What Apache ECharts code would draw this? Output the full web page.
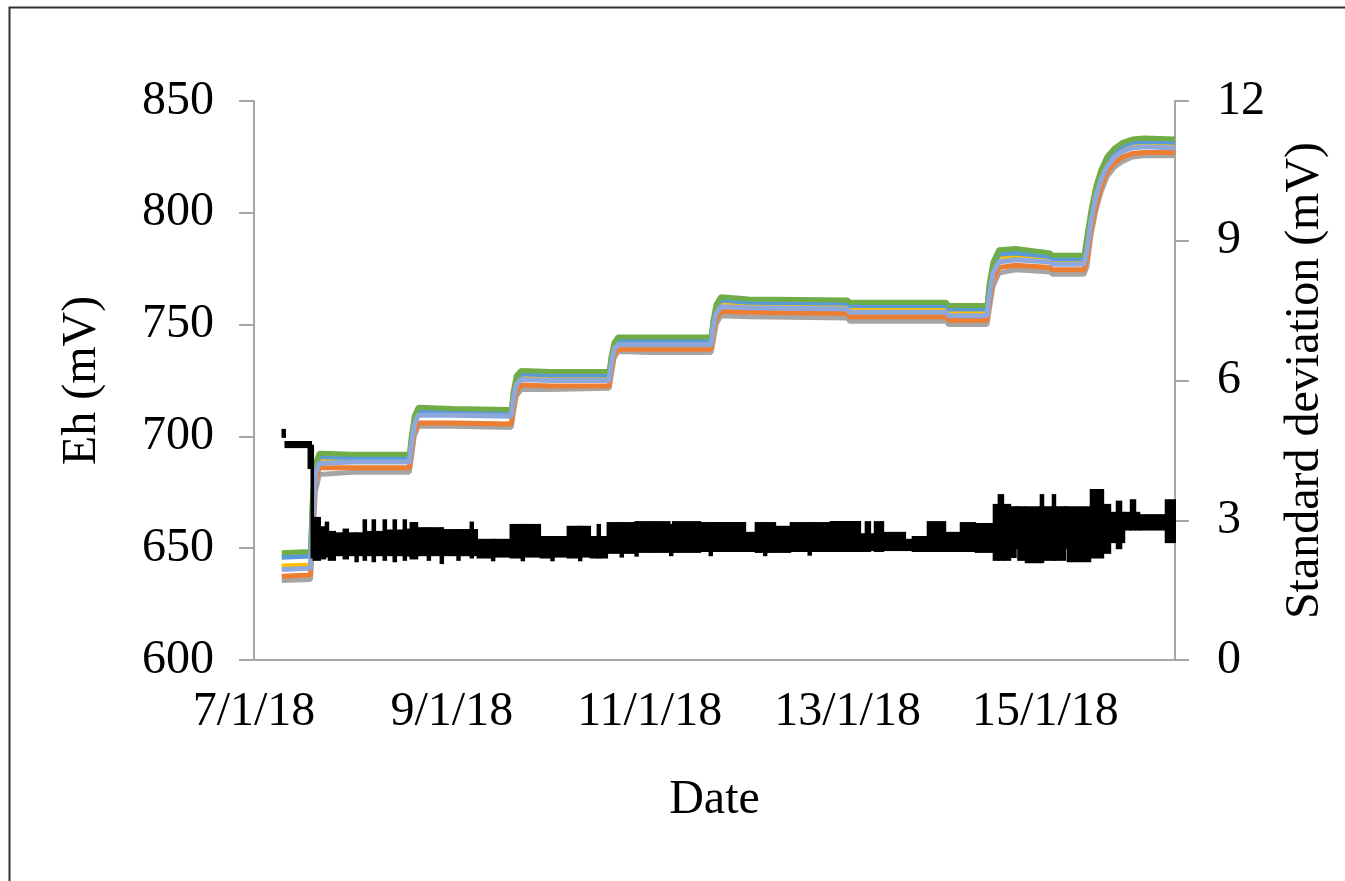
<!DOCTYPE html>
<html><head><meta charset="utf-8">
<script src="https://cdn.jsdelivr.net/npm/echarts@6/dist/echarts.min.js"></script>
<style>html,body{margin:0;padding:0;background:#fff}#c{width:1345px;height:881px}</style>
</head><body><div id="c"></div>
<script>
// x values are days since 7/1/18 00:00
const xTickLabels = ['7/1/18','9/1/18','11/1/18','13/1/18','15/1/18'];
const ehT = [0.28,0.57,0.59,0.62,0.66,1.00,1.57,1.59,1.62,1.66,2.00,2.60,2.62,2.65,2.70,3.00,3.59,3.61,3.64,3.68,4.00,4.62,4.64,4.67,4.72,5.00,6.00,6.02,7.00,7.02,7.41,7.43,7.47,7.53,7.70,8.05,8.07,8.39,8.42,8.46,8.51,8.56,8.62,8.70,8.78,8.88,9.00,9.31];
const ehGreen = [648,648.5,672,688,692.5,692,692,700,709,713,712.5,712,720,727,729.5,729,729,736,742,744.5,744.5,744.5,752,759,762.5,761.5,761,760,760,758.5,758.5,768,778,783.5,784,782,781,781,790,801,812,819,825,829,831.5,833,833.5,833];
const ehBlue = [646,646.5,670,686.5,691,690.5,690.5,698.5,707.5,711.5,711,710.5,718.5,725.5,728,727.5,727.5,734.5,740.5,743,743,743,750.5,757.5,761,760,759.5,758.5,758.5,757,757,766,776,781.5,782,780.5,779.5,779.5,787,798,809,816.5,823,827,830,831.5,832,831.5];
const ehYellow = [642,642.5,666,684,690,689.5,689.5,697,706,710.5,710,709.5,717,724,727,726.5,726.5,733.5,739.5,742,742,742,749.5,756.5,759.5,759,758.5,757,757,755.5,755.5,764,774,780,780.5,779.5,778.5,778.5,785,797,808,815.5,822,826,828.5,830,830.5,830];
const ehPeri = [640.5,641,662,683,688,688.5,688.5,696,705,709.5,709.5,709,716,723,725.5,725,725,732,739,741,741,741,748,755,758,757.5,757,755.5,755.5,754,754,762,773,778,779,778,777,777,783,796,807,814.5,820.5,825,827.5,829,829.5,829];
const ehOrange = [637.5,638,658,680,686,686,686,693,702,706,706,705.5,712,720,723,722.5,722.5,729,736.5,739,739,739,745,752,756,755.5,755,753.5,753.5,752,752,759,770,775.5,776.5,775.5,774.5,774.5,779,792,803,811,818,822.5,825,826.5,827,827];
const ehGray = [635.5,636,650,675,683,684,684,690,700,704.5,704.5,704,710,718,721,721,721.5,727,735,738,737.5,737.5,742,750,754,753.5,753,751.5,751.5,750,750,756,767,773,774.5,773.5,772.5,772.5,776,790,801,809,816,820.5,823,825,825.5,825.5];

// standard deviation: upper and lower envelope of the noisy black trace (value held until next time)
const stdT = [
  0.283,0.313,0.546,0.576,0.597,0.667,0.72,0.75,0.819,0.90,
  0.95,1.02,1.05,1.102,1.133,1.193,1.224,1.304,1.335,1.405,
  1.436,1.507,1.537,1.577,1.65,1.75,1.78,1.881,1.911,2.05,
  2.08,2.184,2.214,2.255,2.40,2.43,2.588,2.70,2.73,2.892,
  3.00,3.03,3.165,3.28,3.31,3.397,3.468,3.498,3.569,3.70,
  3.73,3.85,3.88,4.004,4.20,4.23,4.510,4.60,4.63,4.965,
  5.066,5.15,5.18,5.268,5.420,5.60,5.63,5.824,6.127,6.178,
  6.228,6.27,6.360,6.582,6.653,6.805,6.987,7.139,7.290,7.472,
  7.522,7.573,7.644,7.70,7.72,7.796,7.947,7.978,8.069,8.099,
  8.20,8.22,8.453,8.584,8.655,8.716,8.767,8.797,8.858,8.908,
  8.949,9.211,9.31];
const stdHi = [
  4.94,4.68,4.68,4.60,3.05,2.85,2.95,2.75,2.72,2.80,
  2.72,2.72,2.72,3.00,2.75,3.00,2.75,3.00,2.78,3.00,
  2.78,3.00,2.80,2.94,2.83,2.83,2.83,2.83,2.79,2.79,
  2.79,2.95,2.79,2.58,2.58,2.58,2.90,2.90,2.90,2.64,
  2.64,2.64,2.86,2.86,2.86,2.64,2.90,2.64,2.94,2.94,
  2.94,2.96,2.96,2.96,2.90,2.96,2.94,2.94,2.94,2.73,
  2.94,2.94,2.94,2.86,2.94,2.94,2.94,2.96,2.70,2.96,
  2.70,2.96,2.73,2.58,2.64,2.96,2.73,2.94,2.92,3.33,
  3.54,3.33,3.28,3.28,3.28,3.28,3.54,3.28,3.54,3.28,
  3.28,3.28,3.65,3.33,3.16,3.40,3.16,3.16,3.43,3.16,
  3.11,3.43,3.43];
const stdLo = [
  4.79,4.57,4.12,2.20,2.15,2.18,2.22,2.15,2.25,2.18,
  2.25,2.12,2.25,2.15,2.25,2.12,2.25,2.15,2.25,2.12,
  2.25,2.15,2.24,2.18,2.25,2.15,2.25,2.08,2.25,2.15,
  2.25,2.20,2.25,2.20,2.14,2.22,2.20,2.14,2.22,2.20,
  2.14,2.22,2.20,2.14,2.22,2.20,2.20,2.20,2.30,2.22,
  2.30,2.24,2.32,2.32,2.25,2.32,2.34,2.25,2.34,2.34,
  2.32,2.25,2.32,2.32,2.34,2.26,2.34,2.34,2.34,2.34,
  2.36,2.34,2.36,2.36,2.34,2.34,2.34,2.34,2.32,2.15,
  2.15,2.15,2.21,2.40,2.15,2.10,2.10,2.15,2.15,2.15,
  2.40,2.12,2.20,2.30,2.53,2.40,2.53,2.80,2.80,2.80,
  2.80,2.53,2.53];

const FONT = '"Liberation Serif","Times New Roman",serif';
const AXIS_GRAY = '#a6a6a6';

function pairs(t, v){ return t.map((x,i)=>[x, v[i]]); }
function ehSeries(name, color, vals){
  return {name, type:'line', yAxisIndex:0, data:pairs(ehT, vals), showSymbol:false, symbol:'none',
    lineStyle:{color, width:5}, itemStyle:{color}, z:2, animation:false};
}
const stdSegments = stdT.slice(0, -1).map((t,i)=>[t, stdT[i+1], stdLo[i], stdHi[i]]);

const chart = echarts.init(document.getElementById('c'), null, {renderer:'canvas'});
chart.setOption({
  animation:false,
  backgroundColor:'#fff',
  graphic:[{type:'rect', shape:{x:9.5, y:7.5, width:1400, height:1000}, style:{fill:'none', stroke:'#333', lineWidth:2}, silent:true}],
  grid:{left:254, right:170, top:101, bottom:221, containLabel:false},
  xAxis:{type:'value', min:0, max:9.31, interval:2,
    name:'Date', nameLocation:'middle', nameGap:116,
    nameTextStyle:{fontFamily:FONT, fontSize:48, color:'#000'},
    axisLine:{show:true, lineStyle:{color:AXIS_GRAY, width:2}},
    axisTick:{show:false}, splitLine:{show:false},
    axisLabel:{fontFamily:FONT, fontSize:48, color:'#000', margin:28, showMaxLabel:false,
      formatter:function(v){ const k=Math.round(v); if(Math.abs(v-k)>1e-6||k%2) return ''; return xTickLabels[k/2]||''; }}
  },
  yAxis:[
    {type:'value', min:600, max:850, interval:50, position:'left',
      name:'Eh (mV)', nameLocation:'middle', nameGap:148,
      nameTextStyle:{fontFamily:FONT, fontSize:48, color:'#000'},
      axisLine:{show:true, lineStyle:{color:AXIS_GRAY, width:2}},
      axisTick:{show:true, inside:false, length:15, lineStyle:{color:AXIS_GRAY, width:2}},
      splitLine:{show:false},
      axisLabel:{fontFamily:FONT, fontSize:48, color:'#000', margin:40}},
    {type:'value', min:0, max:12, interval:3, position:'right',
      name:'Standard deviation (mV)', nameLocation:'middle', nameGap:106,
      nameTextStyle:{fontFamily:FONT, fontSize:48, color:'#000'},
      axisLine:{show:true, lineStyle:{color:AXIS_GRAY, width:2}},
      axisTick:{show:true, inside:false, length:14, lineStyle:{color:AXIS_GRAY, width:2}},
      splitLine:{show:false},
      axisLabel:{fontFamily:FONT, fontSize:48, color:'#000', margin:42}}
  ],
  series:[
    ehSeries('Gray', '#A5A5A5', ehGray),
    ehSeries('Orange', '#ED7D31', ehOrange),
    ehSeries('Yellow', '#FFC000', ehYellow),
    ehSeries('Blue', '#5B9BD5', ehBlue),
    ehSeries('Green', '#70AD47', ehGreen),
    ehSeries('Periwinkle', '#8FA8DC', ehPeri),
    {name:'Std', type:'custom', yAxisIndex:1, data:stdSegments, z:3, animation:false,
      encode:{x:[0,1], y:[2,3]},
      renderItem:function(params, api){
        const p0 = api.coord([api.value(0), api.value(3)]);
        const p1 = api.coord([api.value(1), api.value(2)]);
        return {type:'rect', shape:{x:p0[0]-0.5, y:p0[1]-1, width:Math.max(p1[0]-p0[0]+1.5, 2), height:Math.max(p1[1]-p0[1]+2, 3)},
          style:{fill:'#000'}};
      }}
  ]
});
</script></body></html>
